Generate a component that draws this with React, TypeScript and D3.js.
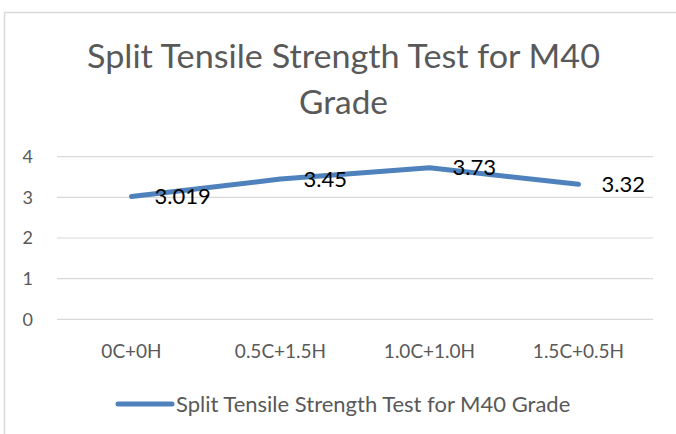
import React from "react";
import * as d3 from "d3";

const categories = ["0C+0H", "0.5C+1.5H", "1.0C+1.0H", "1.5C+0.5H"];
const values = [3.019, 3.45, 3.73, 3.32];
const labels = ["3.019", "3.45", "3.73", "3.32"];
const yTicks = [0, 1, 2, 3, 4];
const title = ["Split Tensile Strength Test for M40", "Grade"];
const titleWidths = [513, 89];
const seriesName = "Split Tensile Strength Test for M40 Grade";

const W = 676;
const H = 434;
const FONT = "Lato, 'Open Sans', sans-serif";

export default function App() {
  const x = d3.scaleBand().domain(categories).range([57, 653]);
  const y = d3.scaleLinear().domain([0, 4]).range([319.3, 156.7]);
  const line = d3
    .line<number>()
    .x((_, i) => (x(categories[i]) as number) + x.bandwidth() / 2)
    .y((d) => y(d));

  return (
    <svg
      width={W}
      height={H}
      style={{ position: "absolute", left: 0, top: 0, background: "#fff" }}
    >
      <rect x={0} y={0} width={W} height={H} fill="#fff" />
      <path d={`M4.5,${H} V12.5 H${W}`} fill="none" stroke="#d9d9d9" strokeWidth={1.5} />
      {title.map((t, i) => (
        <text
          key={i}
          x={343.5}
          y={68 + i * 46}
          textAnchor="middle"
          fontFamily={FONT}
          fontSize={32}
          fill="#595959"
          textLength={titleWidths[i]}
          lengthAdjust="spacingAndGlyphs"
        >
          {t}
        </text>
      ))}
      {yTicks.map((t) => (
        <g key={t}>
          <line x1={57} x2={653} y1={y(t)} y2={y(t)} stroke="#d9d9d9" strokeWidth={1.2} />
          <text
            x={33}
            y={y(t)}
            dy="0.35em"
            textAnchor="end"
            fontFamily={FONT}
            fontSize={18}
            fill="#595959"
          >
            {t}
          </text>
        </g>
      ))}
      {categories.map((c) => (
        <text
          key={c}
          x={(x(c) as number) + x.bandwidth() / 2}
          y={358}
          textAnchor="middle"
          fontFamily={FONT}
          fontSize={19}
          fill="#595959"
        >
          {c}
        </text>
      ))}
      <path
        d={line(values) || ""}
        fill="none"
        stroke="#4f81bd"
        strokeWidth={5}
        strokeLinecap="round"
        strokeLinejoin="round"
      />
      {values.map((v, i) => (
        <text
          key={i}
          x={(x(categories[i]) as number) + x.bandwidth() / 2 + 23}
          y={y(v)}
          dy="0.35em"
          fontFamily={FONT}
          fontSize={22}
          fill="#000"
        >
          {labels[i]}
        </text>
      ))}
      <line x1={118} x2={172} y1={404} y2={404} stroke="#4f81bd" strokeWidth={5} strokeLinecap="round" />
      <text x={176} y={404} dy="0.35em" fontFamily={FONT} fontSize={22} fill="#595959">
        {seriesName}
      </text>
    </svg>
  );
}
